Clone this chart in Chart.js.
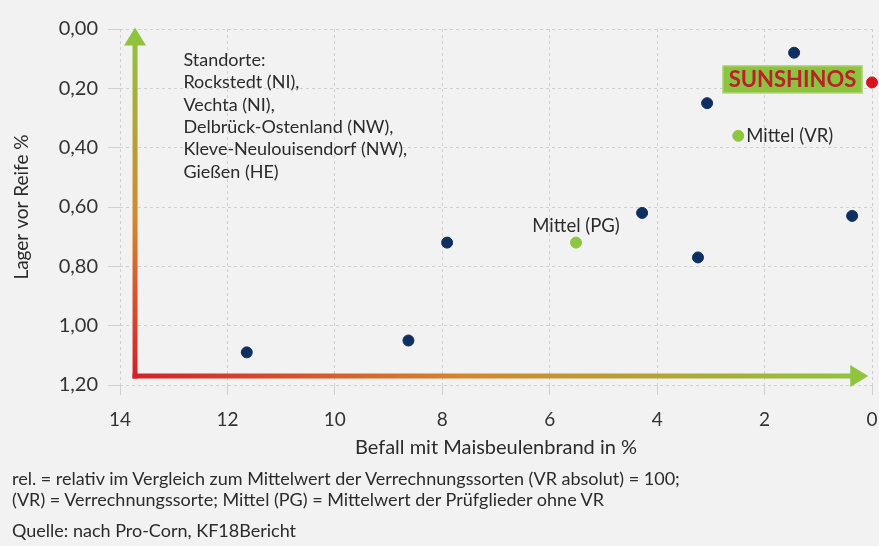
<!DOCTYPE html>
<html lang="de">
<head>
  <meta charset="UTF-8">
  <title>Lager vor Reife vs. Befall mit Maisbeulenbrand</title>
  <script src="https://cdn.jsdelivr.net/npm/chart.js"></script>
  <style>
    html, body { margin: 0; padding: 0; background: #f2f2f2; }
    body { font-family: Lato, 'Open Sans', Arial, sans-serif; }
    .wrap { position: relative; width: 879px; height: 546px; overflow: hidden; }
    canvas { position: absolute; left: 0; top: 0; }
    .note { position: absolute; left: 12px; font-size: 18px; color: #2b2b2b; white-space: nowrap; }
  </style>
</head>
<body>
  <div class="wrap">
    <canvas id="chart" width="879" height="546"></canvas>
    <div class="note" style="top:467px">rel. = relativ im Vergleich zum Mittelwert der Verrechnungssorten (VR absolut) = 100;</div>
    <div class="note" style="top:488px">(VR) = Verrechnungssorte; Mittel (PG) = Mittelwert der Prüfglieder ohne VR</div>
    <div class="note" style="top:519px">Quelle: nach Pro-Corn, KF18Bericht</div>
  </div>
  <script>
    // Sorten (blaue Punkte): Befall %, Lager %
    const sortenBefall = [1.45, 3.07, 4.28, 3.24, 0.37, 7.91, 8.63, 11.64];
    const sortenLager  = [0.08, 0.25, 0.62, 0.77, 0.63, 0.72, 1.05, 1.09];
    // Mittelwerte (grün)
    const mittelNamen  = ['Mittel (VR)', 'Mittel (PG)'];
    const mittelBefall = [2.49, 5.51];
    const mittelLager  = [0.36, 0.72];
    // SUNSHINOS (rot)
    const sunBefall = [0.0];
    const sunLager  = [0.18];

    const standorte = [
      'Standorte:',
      'Rockstedt (NI),',
      'Vechta (NI),',
      'Delbrück-Ostenland (NW),',
      'Kleve-Neulouisendorf (NW),',
      'Gießen (HE)'
    ];

    const xTicks = [14, 12, 10, 8, 6, 4, 2, 0];
    const yTicks = [0, 0.2, 0.4, 0.6, 0.8, 1.0, 1.2];

    const FONT = "Lato, 'Open Sans', Arial, sans-serif";
    const BLUE = '#0e2f5f';
    const GREEN = '#8dc63f';
    const RED = '#d7141e';

    function toPoints(xs, ys) {
      return xs.map((x, i) => ({ x: x, y: ys[i] }));
    }

    // Pfeile + Beschriftungen
    const decoPlugin = {
      id: 'deco',
      beforeDatasetsDraw(chart) {
        const ctx = chart.ctx;
        const xs = chart.scales.x, ys = chart.scales.y;
        const cx = xs.getPixelForValue(13.72);
        const cy = ys.getPixelForValue(1.17);
        const top = ys.getPixelForValue(-0.005);
        const right = xs.getPixelForValue(0.07);

        function arrow(x1, y1, x2, y2) {
          const g = ctx.createLinearGradient(x1, y1, x2, y2);
          g.addColorStop(0, '#d3222a');
          g.addColorStop(0.45, '#d6862c');
          g.addColorStop(1, '#8dc63f');
          const head = 18, half = 11;
          const dx = Math.sign(x2 - x1), dy = Math.sign(y2 - y1);
          ctx.save();
          ctx.strokeStyle = g;
          ctx.fillStyle = g;
          ctx.lineWidth = 5;
          ctx.lineCap = 'square';
          ctx.beginPath();
          ctx.moveTo(x1, y1);
          ctx.lineTo(x2 - dx * head, y2 - dy * head);
          ctx.stroke();
          ctx.beginPath();
          ctx.moveTo(x2, y2);
          ctx.lineTo(x2 - dx * head + dy * half, y2 - dy * head + dx * half);
          ctx.lineTo(x2 - dx * head - dy * half, y2 - dy * head - dx * half);
          ctx.closePath();
          ctx.fill();
          ctx.restore();
        }
        arrow(cx, cy, right, cy);
        arrow(cx, cy, cx, top);

        // Standorte
        ctx.save();
        ctx.fillStyle = '#2b2b2b';
        ctx.font = '18px ' + FONT;
        ctx.textBaseline = 'middle';
        const lx = xs.getPixelForValue(12.82);
        standorte.forEach((t, i) => ctx.fillText(t, lx, 60 + i * 22.4));
        ctx.restore();
      },
      afterDatasetsDraw(chart) {
        const ctx = chart.ctx;
        ctx.save();
        ctx.textBaseline = 'middle';
        ctx.font = '18.5px ' + FONT;
        ctx.fillStyle = '#2b2b2b';
        const mm = chart.getDatasetMeta(1).data;
        // Mittel (VR): rechts vom Punkt
        ctx.textAlign = 'left';
        ctx.fillText(mittelNamen[0], mm[0].x + 8, mm[0].y);
        // Mittel (PG): über dem Punkt
        ctx.textAlign = 'center';
        ctx.fillText(mittelNamen[1], mm[1].x, mm[1].y - 17);

        // SUNSHINOS-Box links vom roten Punkt
        const sp = chart.getDatasetMeta(2).data[0];
        const bw = 139, bh = 27;
        const bx = sp.x - 10 - bw, by = sp.y - 3 - bh / 2;
        ctx.fillStyle = '#8cc43f';
        ctx.fillRect(bx, by, bw, bh);
        ctx.strokeStyle = '#a9d46a';
        ctx.lineWidth = 1.5;
        ctx.strokeRect(bx, by, bw, bh);
        ctx.fillStyle = '#b8232b';
        ctx.font = 'bold 22px ' + FONT;
        ctx.textAlign = 'center';
        ctx.fillText('SUNSHINOS', bx + bw / 2, by + bh / 2 + 1);
        ctx.restore();
      }
    };

    new Chart(document.getElementById('chart'), {
      type: 'scatter',
      data: {
        datasets: [
          { label: 'Sorten', data: toPoints(sortenBefall, sortenLager), backgroundColor: BLUE, borderColor: BLUE, pointRadius: 5.5, pointHoverRadius: 5.5, clip: false },
          { label: 'Mittel', data: toPoints(mittelBefall, mittelLager), backgroundColor: GREEN, borderColor: GREEN, pointRadius: 5.5, pointHoverRadius: 5.5, clip: false },
          { label: 'SUNSHINOS', data: toPoints(sunBefall, sunLager), backgroundColor: RED, borderColor: RED, pointRadius: 5.5, pointHoverRadius: 5.5, clip: false }
        ]
      },
      options: {
        responsive: false,
        animation: false,
        layout: { padding: { left: 4, right: 7, top: 29, bottom: 86 } },
        plugins: {
          legend: { display: false },
          tooltip: { enabled: false }
        },
        scales: {
          x: {
            type: 'linear',
            reverse: true,
            min: 0,
            max: 14,
            afterBuildTicks: s => { s.ticks = xTicks.map(v => ({ value: v })); },
            afterFit: s => { s.height = 75; s.paddingRight = 0; s.paddingLeft = 0; },
            ticks: { color: '#333', font: { family: FONT, size: 19 }, padding: 13, maxRotation: 0 },
            grid: { color: '#d0d0d0', tickLength: 10 },
            border: { display: false, dash: [3, 3] },
            title: { display: true, text: 'Befall mit Maisbeulenbrand in %', color: '#2b2b2b', font: { family: FONT, size: 20 }, padding: { top: 4, bottom: 0 } }
          },
          y: {
            type: 'linear',
            reverse: true,
            min: 0,
            max: 1.2,
            afterBuildTicks: s => { s.ticks = yTicks.map(v => ({ value: v })); },
            afterFit: s => { s.width = 116; },
            ticks: {
              color: '#333',
              font: { family: FONT, size: 20 },
              padding: 10,
              callback: v => v.toFixed(2).replace('.', ',')
            },
            grid: { color: '#d0d0d0', tickLength: 12 },
            border: { display: false, dash: [3, 3] },
            title: { display: true, text: 'Lager vor Reife %', color: '#2b2b2b', font: { family: FONT, size: 19 }, padding: { top: 6, bottom: 4 } }
          }
        }
      },
      plugins: [decoPlugin]
    });
  </script>
</body>
</html>
